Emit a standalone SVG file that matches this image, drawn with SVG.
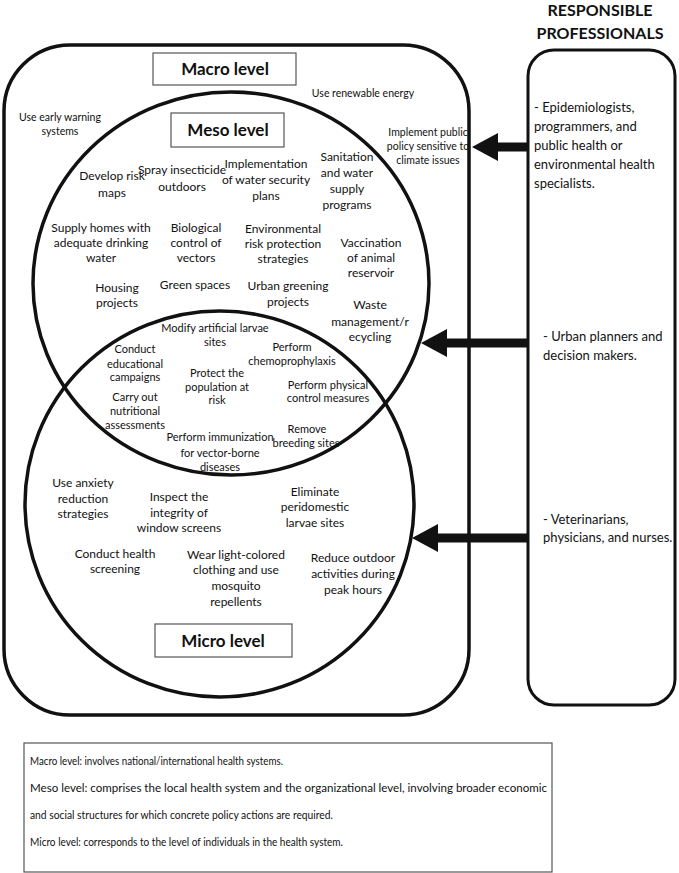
<svg xmlns="http://www.w3.org/2000/svg" width="679" height="873" viewBox="0 0 679 873">
<style>
text{font-family:Lato,"Liberation Sans",sans-serif;fill:#111;text-anchor:middle}
.thick{fill:none;stroke:#111;stroke-width:3.5}
.lbl{fill:#fff;stroke:#555;stroke-width:1.2}
.ttl{font-weight:bold;font-size:17px}
.mac{font-size:10.5px}
.mes{font-size:12px}
.int{font-size:11px}
.mic{font-size:12px}
.pro{font-size:13px;text-anchor:start}
.leg{font-size:11.5px;text-anchor:start}
.arr{fill:#111;stroke:none}
</style>
<rect width="679" height="873" fill="#fff"/>

<g id="macro">
<rect class="thick" x="4" y="45" width="465" height="670" rx="66" ry="66"/>
<rect class="lbl" x="153" y="53" width="143" height="32"/>
<text class="ttl" x="225" y="75">Macro level</text>
<text class="mac" x="363" y="97">Use renewable energy</text>
<text class="mac" x="60" y="121">Use early warning</text>
<text class="mac" x="60" y="135">systems</text>
<text class="mac" x="428" y="136">Implement public</text>
<text class="mac" x="428" y="150">policy sensitive to</text>
<text class="mac" x="428" y="164">climate issues</text>
</g>

<g id="meso">
<ellipse class="thick" cx="231" cy="283.5" rx="198" ry="191.5"/>
<rect class="lbl" x="171" y="113" width="113" height="34"/>
<text class="ttl" x="228" y="136">Meso level</text>
<text class="mes" x="112" y="180">Develop risk</text>
<text class="mes" x="112" y="197">maps</text>
<text class="mes" x="182" y="174">Spray insecticide</text>
<text class="mes" x="182" y="191">outdoors</text>
<text class="mes" x="266" y="168">Implementation</text>
<text class="mes" x="266" y="184">of water security</text>
<text class="mes" x="266" y="200">plans</text>
<text class="mes" x="347" y="161">Sanitation</text>
<text class="mes" x="347" y="177">and water</text>
<text class="mes" x="347" y="193">supply</text>
<text class="mes" x="347" y="209">programs</text>
<text class="mes" x="101" y="232">Supply homes with</text>
<text class="mes" x="101" y="247">adequate drinking</text>
<text class="mes" x="101" y="262">water</text>
<text class="mes" x="196" y="232">Biological</text>
<text class="mes" x="196" y="247">control of</text>
<text class="mes" x="196" y="262">vectors</text>
<text class="mes" x="283" y="233">Environmental</text>
<text class="mes" x="283" y="248">risk protection</text>
<text class="mes" x="283" y="263">strategies</text>
<text class="mes" x="371" y="247">Vaccination</text>
<text class="mes" x="371" y="262">of animal</text>
<text class="mes" x="371" y="277">reservoir</text>
<text class="mes" x="117" y="292">Housing</text>
<text class="mes" x="117" y="307">projects</text>
<text class="mes" x="195" y="289">Green spaces</text>
<text class="mes" x="288" y="290">Urban greening</text>
<text class="mes" x="288" y="306">projects</text>
<text class="mes" x="370" y="309">Waste</text>
<text class="mes" x="370" y="326">management/r</text>
<text class="mes" x="370" y="341">ecycling</text>
</g>

<g id="micro">
<ellipse class="thick" cx="219.5" cy="504" rx="194.5" ry="193"/>
<rect class="lbl" x="155" y="624" width="137" height="33"/>
<text class="ttl" x="223" y="647">Micro level</text>
<text class="mic" x="83" y="487">Use anxiety</text>
<text class="mic" x="83" y="503">reduction</text>
<text class="mic" x="83" y="518">strategies</text>
<text class="mic" x="179" y="501">Inspect the</text>
<text class="mic" x="179" y="517">integrity of</text>
<text class="mic" x="179" y="532">window screens</text>
<text class="mic" x="315" y="496">Eliminate</text>
<text class="mic" x="315" y="511">peridomestic</text>
<text class="mic" x="315" y="527">larvae sites</text>
<text class="mic" x="115" y="558">Conduct health</text>
<text class="mic" x="115" y="573">screening</text>
<text class="mic" x="236" y="559">Wear light-colored</text>
<text class="mic" x="236" y="574">clothing and use</text>
<text class="mic" x="236" y="590">mosquito</text>
<text class="mic" x="236" y="606">repellents</text>
<text class="mic" x="353" y="562">Reduce outdoor</text>
<text class="mic" x="353" y="578">activities during</text>
<text class="mic" x="353" y="594">peak hours</text>
</g>

<g id="meso-micro-overlap">
<text class="int" x="215" y="332">Modify artificial larvae</text>
<text class="int" x="215" y="346">sites</text>
<text class="int" x="135" y="353">Conduct</text>
<text class="int" x="135" y="368">educational</text>
<text class="int" x="135" y="381">campaigns</text>
<text class="int" x="292" y="351">Perform</text>
<text class="int" x="292" y="365">chemoprophylaxis</text>
<text class="int" x="217" y="377">Protect the</text>
<text class="int" x="217" y="391">population at</text>
<text class="int" x="217" y="404">risk</text>
<text class="int" x="328" y="389">Perform physical</text>
<text class="int" x="328" y="402">control measures</text>
<text class="int" x="135" y="401">Carry out</text>
<text class="int" x="135" y="415">nutritional</text>
<text class="int" x="135" y="429">assessments</text>
<text class="int" x="220" y="441">Perform immunization</text>
<text class="int" x="220" y="457">for vector-borne</text>
<text class="int" x="220" y="471">diseases</text>
<text class="int" x="307" y="433">Remove</text>
<text class="int" x="306" y="447">breeding sites</text>
</g>

<g id="professionals">
<text class="ttl" x="600" y="16" style="font-size:16px">RESPONSIBLE</text>
<text class="ttl" x="600" y="39" style="font-size:16px">PROFESSIONALS</text>
<rect class="thick" x="528" y="50" width="147" height="655" rx="26" ry="26" style="stroke-width:3"/>
<text class="pro" x="534" y="112">- Epidemiologists,</text>
<text class="pro" x="534" y="131">programmers, and</text>
<text class="pro" x="534" y="150">public health or</text>
<text class="pro" x="534" y="169">environmental health</text>
<text class="pro" x="534" y="188">specialists.</text>
<text class="pro" x="543" y="341">- Urban planners and</text>
<text class="pro" x="543" y="360">decision makers.</text>
<text class="pro" x="543" y="524">- Veterinarians,</text>
<text class="pro" x="543" y="542">physicians, and nurses.</text>
</g>

<g id="connectors">
<path class="arr" d="M528,142.5 L498,142.5 L498,133 L472,147 L498,161 L498,151.5 L528,151.5 Z"/>
<path class="arr" d="M528,338.5 L447,338.5 L447,329 L421,343 L447,357 L447,347.5 L528,347.5 Z"/>
<path class="arr" d="M528,533.5 L438,533.5 L438,524 L412,538 L438,552 L438,542.5 L528,542.5 Z"/>
</g>

<g id="legend">
<rect x="24" y="743" width="528" height="129" fill="#fff" stroke="#555" stroke-width="1.2"/>
<text class="leg" x="30" y="765" textLength="253" lengthAdjust="spacingAndGlyphs">Macro level: involves national/international health systems.</text>
<text class="leg" x="30" y="792" textLength="517" lengthAdjust="spacingAndGlyphs">Meso level: comprises the local health system and the organizational level, involving broader economic</text>
<text class="leg" x="30" y="819" textLength="303" lengthAdjust="spacingAndGlyphs">and social structures for which concrete policy actions are required.</text>
<text class="leg" x="30" y="846" textLength="313" lengthAdjust="spacingAndGlyphs">Micro level: corresponds to the level of individuals in the health system.</text>
</g>
</svg>
